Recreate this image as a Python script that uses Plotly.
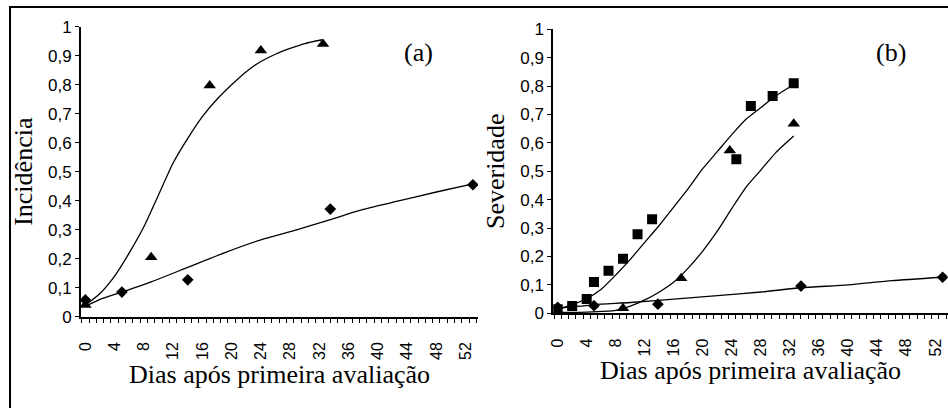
import plotly.graph_objects as go

# ---------------- data ----------------
# Panel (a) - Incidência
days_tri_a = [0, 9, 17, 24, 32.5]
inc_tri = [0.04, 0.205, 0.797, 0.918, 0.94]
days_dia_a = [0, 5, 14, 33.5, 53]
inc_dia = [0.058, 0.085, 0.127, 0.371, 0.455]

# fitted curves (a)
fit_tri_a_x = [0, 2, 4, 6, 8, 10, 12, 14, 16, 18, 20, 22, 24, 26, 28, 30, 32.4]
fit_tri_a_y = [0.04, 0.08, 0.14, 0.22, 0.31, 0.42, 0.53, 0.615, 0.69, 0.75, 0.80,
               0.845, 0.88, 0.905, 0.925, 0.942, 0.955]
fit_dia_a_x = [0, 2, 5, 9, 14, 19, 24, 29, 33.5, 38, 43, 48, 53]
fit_dia_a_y = [0.036, 0.06, 0.085, 0.12, 0.17, 0.22, 0.265, 0.30, 0.335, 0.37,
               0.40, 0.43, 0.458]

# Panel (b) - Severidade
days_sq = [0, 2, 4, 5, 7, 9, 11, 13, 24.6, 26.6, 29.6, 32.5]
sev_sq = [0.014, 0.026, 0.05, 0.11, 0.15, 0.192, 0.278, 0.331, 0.542, 0.73,
          0.765, 0.81]
days_tri_b = [0, 9, 17, 23.7, 32.5]
sev_tri = [0.006, 0.018, 0.123, 0.573, 0.667]
days_dia_b = [0, 5, 13.8, 33.5, 53]
sev_dia = [0.021, 0.027, 0.032, 0.096, 0.127]

# fitted curves (b)
fit_sq_x = [0, 2, 4, 6, 8, 10, 12, 14, 16, 18, 20, 22, 24, 26, 28, 30, 32.4]
fit_sq_y = [0.015, 0.03, 0.052, 0.085, 0.135, 0.19, 0.25, 0.31, 0.375, 0.44,
            0.51, 0.57, 0.63, 0.685, 0.725, 0.765, 0.804]
fit_tri_b_x = [0, 4, 8, 10, 12, 14, 16, 18, 20, 22, 24, 26, 28, 30, 32.5]
fit_tri_b_y = [0.003, 0.004, 0.01, 0.025, 0.047, 0.075, 0.11, 0.16, 0.22,
               0.29, 0.37, 0.446, 0.505, 0.565, 0.624]
fit_dia_b_x = [0, 5, 10, 16, 22, 28, 33.5, 40, 46, 53]
fit_dia_b_y = [0.018, 0.03, 0.038, 0.05, 0.062, 0.075, 0.09, 0.1, 0.115, 0.127]

x_tick_vals = list(range(0, 53, 4))
x_tick_text = [str(v) for v in x_tick_vals]
x_minor_vals = [k + 0.5 for k in range(-1, 54)]
y_tick_vals = [i / 10 for i in range(11)]
y_tick_text = ["0", "0,1", "0,2", "0,3", "0,4", "0,5", "0,6", "0,7", "0,8", "0,9", "1"]

# ---------------- figure ----------------
W, H = 948, 408
fig = go.Figure()

line_style = dict(color="black", width=1.3)


def add_fit(x, y, xa, ya):
    fig.add_trace(go.Scatter(x=x, y=y, mode="lines",
                             line=dict(shape="spline", smoothing=0.6, **line_style),
                             xaxis=xa, yaxis=ya, showlegend=False, hoverinfo="skip"))


def add_pts(x, y, symbol, size, xa, ya):
    fig.add_trace(go.Scatter(x=x, y=y, mode="markers",
                             marker=dict(symbol=symbol, size=size, color="black"),
                             xaxis=xa, yaxis=ya, showlegend=False))


add_fit(fit_tri_a_x, fit_tri_a_y, "x", "y")
add_fit(fit_dia_a_x, fit_dia_a_y, "x", "y")
add_pts(days_tri_a, inc_tri, "triangle-up", 11, "x", "y")
add_pts(days_dia_a, inc_dia, "diamond", 9, "x", "y")

add_fit(fit_sq_x, fit_sq_y, "x2", "y2")
add_fit(fit_tri_b_x, fit_tri_b_y, "x2", "y2")
add_fit(fit_dia_b_x, fit_dia_b_y, "x2", "y2")
add_pts(days_sq, sev_sq, "square", 10, "x2", "y2")
add_pts(days_tri_b, sev_tri, "triangle-up", 11, "x2", "y2")
add_pts(days_dia_b, sev_dia, "diamond", 9, "x2", "y2")

ytick_font = dict(family="Liberation Sans, Arial", size=17, color="black")
xtick_font = dict(family="Liberation Sans, Arial", size=16, color="black")
title_font = dict(family="Liberation Serif, Times New Roman", size=26, color="black")

xcommon = dict(range=[-0.6, 53.7], tickmode="array", tickvals=x_tick_vals,
               ticktext=x_tick_text, tickangle=-90, ticks="outside", ticklen=0,
               tickfont=xtick_font, showline=True, linecolor="black", linewidth=2,
               showgrid=False, zeroline=False, ticklabelstandoff=17, automargin=False,
               minor=dict(tickmode="array", tickvals=x_minor_vals, ticks="outside",
                          ticklen=4, tickcolor="black", tickwidth=1, showgrid=False),
               title=dict(text="Dias após primeira avaliação", font=title_font, standoff=2))
ycommon = dict(range=[0, 1], tickmode="array", tickvals=y_tick_vals, ticktext=y_tick_text,
               ticks="outside", ticklen=4, tickcolor="black", tickwidth=1,
               tickfont=ytick_font, showline=True, linecolor="black", linewidth=2,
               showgrid=False, zeroline=False, automargin=False)

fig.update_layout(
    width=W, height=H,
    margin=dict(l=0, r=0, t=0, b=0),
    paper_bgcolor="white", plot_bgcolor="white",
    xaxis=dict(domain=[81 / W, 478 / W], anchor="y", **xcommon),
    yaxis=dict(domain=[1 - 316.7 / H, 1 - 26.7 / H], anchor="x",
               title=dict(text="Incidência", font=title_font, standoff=8), **ycommon),
    xaxis2=dict(domain=[553.3 / W, 947.7 / W], anchor="y2", **xcommon),
    yaxis2=dict(domain=[1 - 313.3 / H, 1 - 29.3 / H], anchor="x2",
                title=dict(text="Severidade", font=title_font, standoff=8), **ycommon),
    annotations=[
        dict(text="(a)", x=418 / W, y=1 - 52 / H, xref="paper", yref="paper",
             xanchor="center", yanchor="middle", showarrow=False, font=title_font),
        dict(text="(b)", x=891 / W, y=1 - 52 / H, xref="paper", yref="paper",
             xanchor="center", yanchor="middle", showarrow=False, font=title_font),
    ],
    shapes=[dict(type="rect", xref="paper", yref="paper", x0=10 / W, x1=1.05,
                 y0=-0.05, y1=1 - 7 / H, line=dict(color="black", width=2))],
)

fig.write_html("out.html")
